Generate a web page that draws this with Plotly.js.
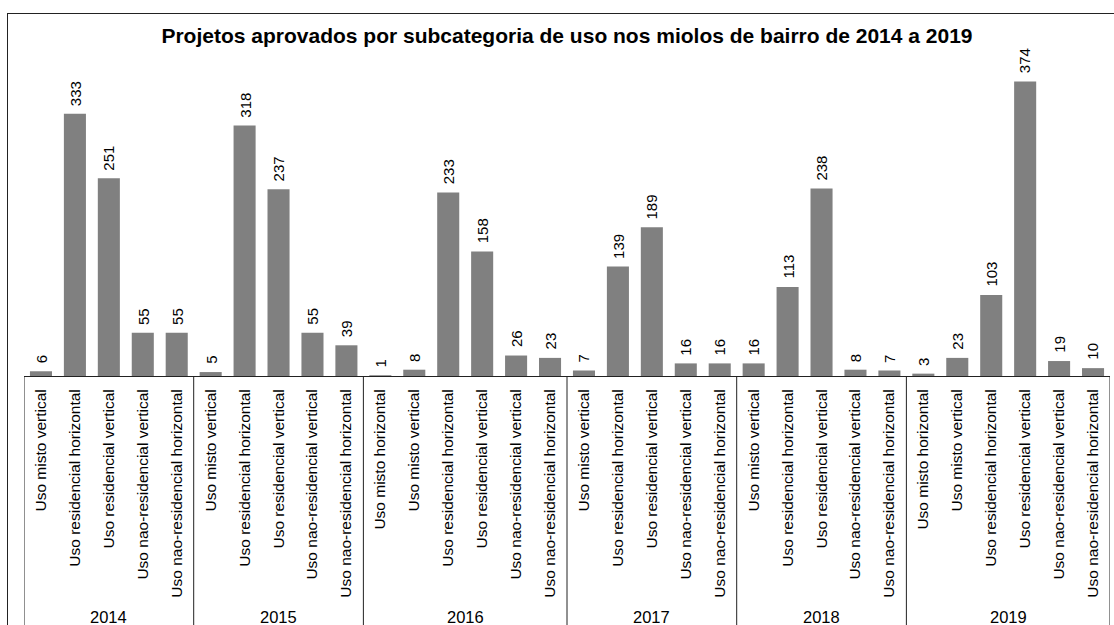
<!DOCTYPE html>
<html>
<head>
<meta charset="utf-8">
<script src="https://cdn.plot.ly/plotly-3.0.1.min.js"></script>
<style>
  html, body { margin: 0; padding: 0; background: #fff; }
  #wrap { position: relative; width: 1114px; height: 625px; overflow: hidden; }
  #chart { width: 1114px; height: 625px; }
  #frame { position: absolute; left: 7px; top: 13px; width: 1130px; height: 700px;
           border: 1.5px solid #222; pointer-events: none; box-sizing: border-box; }
</style>
</head>
<body>
<div id="wrap">
  <div id="chart"></div>
  <div id="frame"></div>
</div>
<script>
// Year (group) for each bar
const years = [
  '2014','2014','2014','2014','2014',
  '2015','2015','2015','2015','2015',
  '2016','2016','2016','2016','2016','2016',
  '2017','2017','2017','2017','2017',
  '2018','2018','2018','2018','2018',
  '2019','2019','2019','2019','2019','2019'
];
// Sub-category for each bar
const subcategories = [
  'Uso misto vertical','Uso residencial horizontal','Uso residencial vertical','Uso nao-residencial vertical','Uso nao-residencial horizontal',
  'Uso misto vertical','Uso residencial horizontal','Uso residencial vertical','Uso nao-residencial vertical','Uso nao-residencial horizontal',
  'Uso misto horizontal','Uso misto vertical','Uso residencial horizontal','Uso residencial vertical','Uso nao-residencial vertical','Uso nao-residencial horizontal',
  'Uso misto vertical','Uso residencial horizontal','Uso residencial vertical','Uso nao-residencial vertical','Uso nao-residencial horizontal',
  'Uso misto vertical','Uso residencial horizontal','Uso residencial vertical','Uso nao-residencial vertical','Uso nao-residencial horizontal',
  'Uso misto horizontal','Uso misto vertical','Uso residencial horizontal','Uso residencial vertical','Uso nao-residencial vertical','Uso nao-residencial horizontal'
];
// Approved projects
const projects = [
  6, 333, 251, 55, 55,
  5, 318, 237, 55, 39,
  1, 8, 233, 158, 26, 23,
  7, 139, 189, 16, 16,
  16, 113, 238, 8, 7,
  3, 23, 103, 374, 19, 10
];
const chartTitle = 'Projetos aprovados por subcategoria de uso nos miolos de bairro de 2014 a 2019';

const FONT = '"Liberation Sans", Arial, Helvetica, sans-serif';

// unique category keys (year + subcategory)
const keys = years.map((y, i) => y + ' | ' + subcategories[i]);

const trace = {
  type: 'bar',
  x: keys,
  y: projects,
  marker: { color: '#808080', line: { width: 0 } },
  textposition: 'none',
  hoverinfo: 'skip'
};

// value labels
const annotations = keys.map((k, i) => ({
  x: k, y: projects[i], xref: 'x', yref: 'y',
  text: String(projects[i]),
  textangle: -90,
  showarrow: false,
  xanchor: 'center', yanchor: 'bottom',
  yshift: 6,
  font: { family: FONT, size: 15, color: '#000' }
}));

// year group labels and dividers
const groups = [];
years.forEach((y, i) => {
  if (!groups.length || groups[groups.length - 1].year !== y) groups.push({ year: y, start: i, end: i });
  else groups[groups.length - 1].end = i;
});
const plotH = 625 - 61 - 249;
groups.forEach(g => {
  annotations.push({
    x: (g.start + g.end) / 2, xref: 'x',
    y: -(617 - 376) / plotH, yref: 'paper',
    text: g.year, showarrow: false,
    xanchor: 'center', yanchor: 'middle',
    font: { family: FONT, size: 16.5, color: '#000' }
  });
});
const bounds = [-0.5].concat(groups.map(g => g.end + 0.5));
const shapes = bounds.map(b => ({
  type: 'line', xref: 'x', yref: 'paper',
  x0: b, x1: b, y0: 0, y1: -(640 - 376) / plotH,
  line: { color: '#222', width: 1 }
}));

const layout = {
  width: 1114,
  height: 625,
  margin: { l: 24, r: 4, t: 61, b: 249 },
  paper_bgcolor: '#fff',
  plot_bgcolor: '#fff',
  showlegend: false,
  bargap: 0.35,
  font: { family: FONT, color: '#000' },
  title: {
    text: '<b>' + chartTitle + '</b>',
    font: { family: FONT, size: 21, color: '#000' },
    xref: 'paper', x: 0.5, xanchor: 'center',
    yref: 'container', y: 0.943, yanchor: 'middle'
  },
  xaxis: {
    type: 'category',
    range: [-0.5, keys.length - 0.5],
    tickmode: 'array',
    tickvals: keys,
    ticktext: subcategories,
    showline: true, linecolor: '#222', linewidth: 1,
    showgrid: false, zeroline: false, ticks: '',
    tickangle: -90,
    ticklabelstandoff: 6,
    tickfont: { family: FONT, size: 15.5, color: '#000' },
    fixedrange: true
  },
  yaxis: {
    visible: false,
    range: [0, 400],
    fixedrange: true
  },
  annotations: annotations,
  shapes: shapes
};

Plotly.newPlot('chart', [trace], layout, { displayModeBar: false, staticPlot: true });
</script>
</body>
</html>
